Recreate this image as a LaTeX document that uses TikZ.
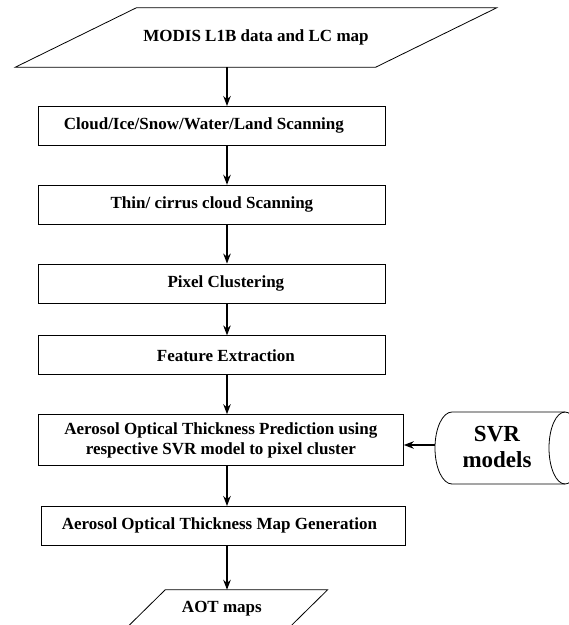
\documentclass[tikz,border=0pt]{standalone}
\usepackage{fontspec}
\setmainfont{Liberation Serif}
\usetikzlibrary{positioning,arrows.meta}

\begin{document}
\begin{tikzpicture}[
  x=1pt, y=-1pt,
  node distance=39pt,
  box/.style={rectangle, draw, line width=0.8pt, inner sep=0pt, minimum width=347pt,
              minimum height=39pt, align=center, font=\bfseries\fontsize{17}{20}\selectfont},
  datatext/.style={rectangle, inner sep=0pt, align=center,
              font=\bfseries\fontsize{17}{20}\selectfont},
  outline/.style={line width=0.8pt, line join=miter},
  arr/.style={-{Stealth[length=10pt, width=7.5pt]}, line width=1.4pt}
]
\useasboundingbox (0,0) rectangle (569,625);
\coordinate (spine) at (227,0);

\node[datatext, minimum width=239pt, minimum height=59pt] (modis) at (256,37.5) {MODIS L1B data and LC map};
\node[box, anchor=north west] (scan) at (38,106) {Cloud/Ice/Snow/Water/Land Scanning\hspace*{16pt}};
\node[box, below=of scan.south west, anchor=north west] (cirrus) {Thin/ cirrus cloud Scanning};
\node[box, below=of cirrus.south west, anchor=north west] (pixel) {\hspace*{28pt}Pixel Clustering};
\node[box, below=32pt of pixel.south west, anchor=north west] (feat) {\hspace*{28pt}Feature Extraction};
\node[box, below=of feat.south west, anchor=north west, minimum width=365pt,
      minimum height=51pt] (pred) {Aerosol Optical Thickness Prediction using\\respective SVR model to pixel cluster};
\node[box, below=40pt of pred.south west, anchor=north west, xshift=3pt,
      minimum width=364pt] (aotgen) {Aerosol Optical Thickness Map Generation\hspace*{8pt}};
\node[datatext, minimum width=123pt, minimum height=38pt, below=44pt of aotgen,
      xshift=3.5pt] (aot) {AOT maps\hspace*{10pt}};

\draw[outline] (modis.north west) -- ([xshift=121pt]modis.north east) -- (modis.south east)
    -- ([xshift=-121pt]modis.south west) -- cycle;
\draw[outline] (aot.north west) -- ([xshift=39pt]aot.north east) -- (aot.south east)
    -- ([xshift=-39pt]aot.south west) -- cycle;

\node[font=\bfseries\fontsize{23}{26}\selectfont, align=center] (svr) at (497,447) {SVR\\models};
\draw[outline] (565,412) -- (452,412)
    .. controls (442.6,412) and (435,428.1) .. (435,448)
    .. controls (435,467.9) and (442.6,484) .. (452,484) -- (565,484);
\draw[outline] (565,448) ellipse [x radius=16pt, y radius=36pt];
\coordinate (svrin) at (435,445);

\draw[arr] (modis.south -| spine) -- (scan.north -| spine);
\draw[arr] (scan.south -| spine) -- (cirrus.north -| spine);
\draw[arr] (cirrus.south -| spine) -- (pixel.north -| spine);
\draw[arr] (pixel.south -| spine) -- (feat.north -| spine);
\draw[arr] (feat.south -| spine) -- (pred.north -| spine);
\draw[arr] (pred.south -| spine) -- (aotgen.north -| spine);
\draw[arr] (aotgen.south -| spine) -- (aot.north -| spine);
\draw[arr] (svrin) -- (svrin -| pred.east);
\end{tikzpicture}
\end{document}
